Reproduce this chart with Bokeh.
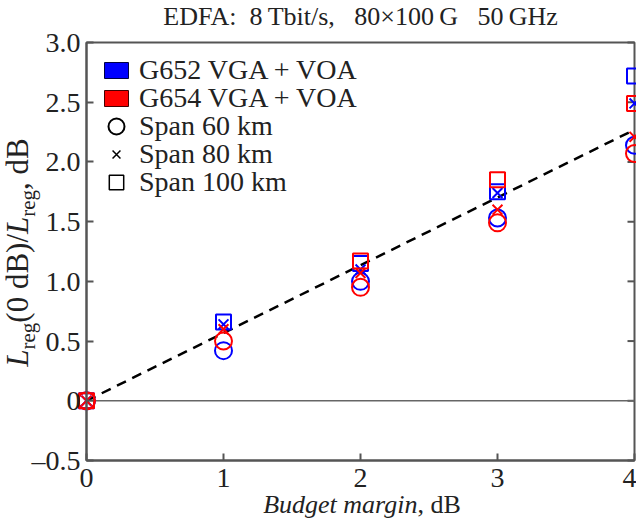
import math
from bokeh.plotting import figure
from bokeh.models import (Range1d, LinearAxis, FixedTicker, Label, Legend, LegendItem,
                          CustomJSTickFormatter)
from bokeh.embed import file_html
from bokeh.resources import INLINE

# ---------------- data ----------------
margin_db = [0, 1, 2, 3, 4]
g652_span60 = [0, 0.42, 1.00, 1.53, 2.14]
g652_span80 = [0, 0.64, 1.10, 1.74, 2.49]
g652_span100 = [0, 0.66, 1.15, 1.75, 2.72]
g654_span60 = [0, 0.50, 0.95, 1.49, 2.07]
g654_span80 = [0, 0.60, 1.07, 1.60, 2.21]
g654_span100 = [0, float("nan"), 1.17, 1.85, 2.49]
fit_x = [0, 4]
fit_y = [0, 2.27]
zero_y = [0, 0]
x_ticks = [0, 1, 2, 3, 4]
y_ticks = [-0.5, 0, 0.5, 1.0, 1.5, 2.0, 2.5, 3.0]
NB = "\u00a0"
title_text = f"EDFA:{NB}{NB}8\u2009Tbit/s,{NB}{NB}{NB}80\u00d7100\u2009G{NB}{NB}{NB}50\u2009GHz"
legend_labels = ["G652 VGA + VOA", "G654 VGA + VOA", "Span 60 km", "Span 80 km", "Span 100 km"]

FONT = "Liberation Serif"
BLUE = "#0000ff"
RED = "#ff0000"
AX = "#555555"
TXT = "#222222"
NAN = float("nan")

# ---------------- geometry (canvas pixels) ----------------
W, H = 636, 518
FL, FR, FT, FB = 86, 634, 42, 460          # axes box
x0, x1 = x_ticks[0], x_ticks[-1]
y0, y1 = y_ticks[0], y_ticks[-1]
SX = (FR - FL) / (x1 - x0)
SY = (FB - FT) / (y1 - y0)


def dx(px):
    return x0 + (px - FL) / SX


def dy(py):
    return y0 + (FB - py) / SY


p = figure(width=W, height=H, output_backend="svg", toolbar_location=None,
           x_range=Range1d(dx(0), dx(W)), y_range=Range1d(dy(H), dy(0)),
           x_axis_location=None, y_axis_location=None, min_border=0)
p.title.visible = False
p.grid.visible = False
p.outline_line_color = None
p.background_fill_color = "white"
p.border_fill_color = "white"

fmt_y = CustomJSTickFormatter(code="""
if (Math.abs(tick) < 1e-9) return "0";
if (tick < 0) return "\u2013" + Math.abs(tick).toFixed(1);
return tick.toFixed(1);
""")


def style_axis(ax, standoff):
    ax.axis_line_color = AX
    ax.axis_line_width = 2
    ax.major_tick_line_color = AX
    ax.major_tick_line_width = 2
    ax.major_tick_in = 7
    ax.major_tick_out = 0
    ax.minor_tick_line_color = None
    ax.major_label_text_font = FONT
    ax.major_label_text_font_size = "28px"
    ax.major_label_text_color = TXT
    ax.major_label_standoff = standoff


xaxis = LinearAxis(fixed_location=y0, bounds=(x0, x1), ticker=FixedTicker(ticks=x_ticks))
style_axis(xaxis, 8)
p.add_layout(xaxis, "below")
yaxis = LinearAxis(fixed_location=x0, bounds=(y0, y1), ticker=FixedTicker(ticks=y_ticks),
                   formatter=fmt_y)
style_axis(yaxis, 6)
p.add_layout(yaxis, "left")

# box around the axes and inward ticks on the right side
p.quad(left=[x0], right=[x1], bottom=[y0], top=[y1], fill_color=None, line_color=AX, line_width=2)
n = len(y_ticks)
p.segment(x0=[x1 - 7 / SX] * n, y0=y_ticks, x1=[x1] * n, y1=y_ticks, line_color=AX, line_width=2)

# zero line
p.line([x0, x1], zero_y, line_color="#666666", line_width=1.5)

# fit line
p.line(fit_x, fit_y, line_color="black", line_width=2.5, line_dash="10 7")

series = [
    (g652_span60, BLUE, "circle", 17),
    (g652_span80, BLUE, "x", 14),
    (g652_span100, BLUE, "square", 15),
    (g654_span60, RED, "circle", 17),
    (g654_span80, RED, "x", 14),
    (g654_span100, RED, "square", 15),
]
for ys, col, mk, sz in series:
    p.scatter(margin_db, ys, marker=mk, size=sz, fill_color=None, line_color=col, line_width=2)

# legend proxies (NaN data: only the legend icon is drawn)
r_b = p.rect(x=[NAN], y=[NAN], width=1, height=1, fill_color=BLUE, line_color="#000044", line_width=1)
r_r = p.rect(x=[NAN], y=[NAN], width=1, height=1, fill_color=RED, line_color="#440000", line_width=1)
r_c = p.ellipse(x=[NAN], y=[NAN], width=16, height=16, width_units="screen", height_units="screen",
                fill_color=None, line_color="black", line_width=2)
r_x = p.scatter(x=[NAN], y=[NAN], marker="x", size=12, fill_color=None, line_color="black", line_width=1.5)
r_s = p.rect(x=[NAN], y=[NAN], width=1, height=1, fill_color=None, line_color="black", line_width=1.5)

ICON_CX = 116        # canvas x of legend icon centres
LABEL_X = 139        # canvas x where legend texts start
ROW_CY = [70, 98, 126, 154, 182]   # canvas y of legend rows


def make_legend(label, rend, cy, gw, gh):
    lx = ICON_CX - gw / 2
    lg = Legend(items=[LegendItem(label=label, renderers=[rend])],
                location=(int(round(lx)), int(round(H - (cy + 16)))),
                margin=0, padding=0, spacing=0,
                label_height=28, glyph_height=gh, glyph_width=gw,
                label_standoff=int(round(LABEL_X - lx - gw)),
                label_text_font=FONT, label_text_font_size="28px", label_text_color=TXT,
                border_line_color=None, background_fill_alpha=0)
    p.add_layout(lg)


make_legend(legend_labels[0], r_b, ROW_CY[0], 30, 20)
make_legend(legend_labels[1], r_r, ROW_CY[1], 30, 20)
make_legend(legend_labels[2], r_c, ROW_CY[2], 30, 20)
make_legend(legend_labels[3], r_x, ROW_CY[3], 28, 28)
make_legend(legend_labels[4], r_s, ROW_CY[4], 18, 18)

# title
p.add_layout(Label(x=(x0 + x1) / 2, y=dy(30), text=title_text, text_align="center",
                   text_baseline="bottom", text_font=FONT, text_font_size="26px", text_color=TXT))

# x-axis title (italic + upright parts), bottom of the text box on the canvas edge
xs_it, xs_up, xfs = 5.972, 1.667, 26
xtot = (xs_it + xs_up) * xfs
junction_px = (FL + FR) / 2 + 1 - xtot / 2 + xs_it * xfs
p.add_layout(Label(x=dx(junction_px), y=dy(H), text="Budget margin", text_align="right",
                   text_baseline="bottom", text_font=FONT, text_font_size=f"{xfs}px",
                   text_font_style="italic", text_color=TXT))
p.add_layout(Label(x=dx(junction_px), y=dy(H), text=f",{NB}dB", text_align="left",
                   text_baseline="bottom", text_font=FONT, text_font_size=f"{xfs}px",
                   text_color=TXT))

# y-axis title: L_reg(0 dB)/L_reg, dB  (rotated pieces, anchored at the descent side)
main_fs, sub_fs = 31, 21
pieces = [("L", main_fs, "italic", 0.556), ("reg", sub_fs, "normal", 1.277),
          (f"(0{NB}dB)/", main_fs, "normal", 2.861), ("L", main_fs, "italic", 0.556),
          ("reg", sub_fs, "normal", 1.277), (f",{NB}dB", main_fs, "normal", 1.667)]
total = sum(fs * w for _, fs, _, w in pieces)
cur = 252 + total / 2
main_baseline_x = 28
for txt, fs, style, w in pieces:
    base = main_baseline_x + (7 if fs == sub_fs else 0)
    anchor_x = base + 0.216 * fs
    p.add_layout(Label(x=dx(anchor_x), y=dy(cur), text=txt, angle=math.pi / 2, text_align="left",
                       text_baseline="bottom", text_font=FONT, text_font_size=f"{fs}px",
                       text_font_style=style, text_color=TXT))
    cur -= fs * w

open("out.html", "w").write(file_html(p, INLINE))
